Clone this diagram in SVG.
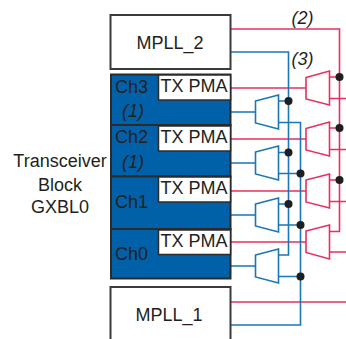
<svg xmlns="http://www.w3.org/2000/svg" width="346" height="339" viewBox="0 0 346 339">
<style>
text{font-family:"Liberation Sans",Arial,sans-serif;font-size:18px;fill:#231f20}
.i{font-style:italic}
.m{text-anchor:middle}
.box{fill:#fff;stroke:#3a3a3a;stroke-width:2}
.ch{fill:#0061a8;stroke:#2b2b2b;stroke-width:2}
.pma{fill:#fff;stroke:#2b2b2b;stroke-width:1.5}
.r{fill:none;stroke:#e8305f;stroke-width:1.6}
.b{fill:none;stroke:#1a76b5;stroke-width:1.6}
.rm{fill:#fff;stroke:#e8305f;stroke-width:1.6}
.bm{fill:#fff;stroke:#1a76b5;stroke-width:1.6}
.d{fill:#1f1f1f}
</style>
<g id="connectors">
<path class="r" d="M230 29H339.5V231.5H329M230 88H306M230 139H306M230 191H306M230 242H306M329 77H339.5M329 98.500H346M329 128H339.500M329 149.500H346M329 180H339.500M329 201.500H346M329 252H346M230 302H346"/>
<path class="b" d="M230 52H288.500V255H279M230 112H256M230 163H256M230 215H256M230 266H256M279 101H288.500M279 152.500H288.500M279 204H288.500M279 122.500H300.500V325H230M279 173.500H300.500M279 225H300.500M279 276.500H300.500"/>
<g id="junctions">
<circle class="d" cx="339.500" cy="77" r="4"/><circle class="d" cx="339.500" cy="128" r="4"/><circle class="d" cx="339.500" cy="180" r="4"/>
<circle class="d" cx="288.500" cy="101" r="4"/><circle class="d" cx="288.500" cy="152.500" r="4"/><circle class="d" cx="288.500" cy="204" r="4"/>
<circle class="d" cx="300.500" cy="173.500" r="4"/><circle class="d" cx="300.500" cy="225" r="4"/><circle class="d" cx="300.500" cy="276.500" r="4"/>
</g>
</g>
<g id="mpll2"><rect class="box" x="110.500" y="15" width="120" height="54"/><text class="m" x="170" y="49">MPLL_2</text></g>
<g id="mpll1"><rect class="box" x="110.500" y="287" width="120" height="60"/><text class="m" x="169" y="321">MPLL_1</text></g>
<g id="ch3"><rect class="ch" x="111" y="74.500" width="119.500" height="50.500"/><rect class="pma" x="158.500" y="75" width="72" height="25"/><text x="115" y="93">Ch3</text><text x="160.500" y="92">TX PMA</text><text class="i" x="122" y="117">(1)</text></g>
<g id="ch2"><rect class="ch" x="111" y="125" width="119.500" height="51.500"/><rect class="pma" x="158.500" y="126" width="72" height="25"/><text x="115" y="143">Ch2</text><text x="160.500" y="143">TX PMA</text><text class="i" x="122" y="168">(1)</text></g>
<g id="ch1"><rect class="ch" x="111" y="176.500" width="119.500" height="52.500"/><rect class="pma" x="158.500" y="177" width="72" height="25"/><text x="115" y="208">Ch1</text><text x="160.500" y="194">TX PMA</text></g>
<g id="ch0"><rect class="ch" x="111" y="229" width="119.500" height="49.500"/><rect class="pma" x="158.500" y="230" width="72" height="24.500"/><text x="115" y="260">Ch0</text><text x="160.500" y="246.500">TX PMA</text></g>
<g id="block-label"><text class="m" x="60" y="167">Transceiver</text><text class="m" x="60" y="191">Block</text><text class="m" x="60" y="213">GXBL0</text></g>
<g id="rmux1"><path class="rm" d="M306 77.500L329.500 71V105L306 99Z"/></g>
<g id="rmux2"><path class="rm" d="M306 128.500L329.500 122V156L306 150Z"/></g>
<g id="rmux3"><path class="rm" d="M306 180L329.500 174V208L306 202Z"/></g>
<g id="rmux4"><path class="rm" d="M306 231L329.500 225V259L306 252.500Z"/></g>
<g id="bmux1"><path class="bm" d="M255.500 101L278.500 95V129L255.500 123Z"/></g>
<g id="bmux2"><path class="bm" d="M255.500 152L278.500 146V180L255.500 174Z"/></g>
<g id="bmux3"><path class="bm" d="M255.500 204L278.500 198V232L255.500 226Z"/></g>
<g id="bmux4"><path class="bm" d="M255.500 255L278.500 249V283L255.500 277Z"/></g>
<g id="notes"><text class="i" x="291.500" y="24">(2)</text><text class="i" x="291.500" y="65">(3)</text></g>
</svg>
